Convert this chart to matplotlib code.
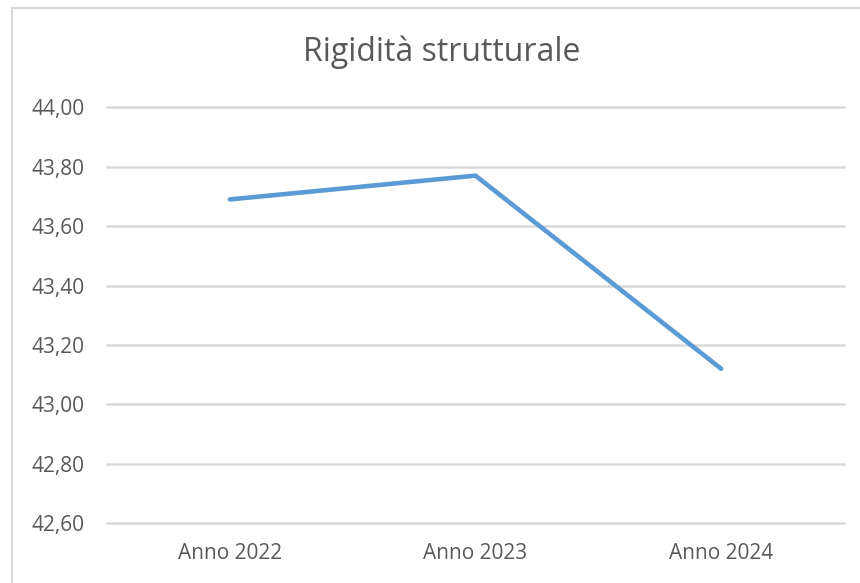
import matplotlib
matplotlib.use("Agg")
import matplotlib.pyplot as plt
from matplotlib.patches import Rectangle
from matplotlib.ticker import FuncFormatter

categories = ["Anno 2022", "Anno 2023", "Anno 2024"]
values = [43.69, 43.77, 43.12]
y_ticks = [42.60, 42.80, 43.00, 43.20, 43.40, 43.60, 43.80, 44.00]
title = "Rigidità strutturale"

plt.rcParams['font.family'] = ['Open Sans', 'DejaVu Sans']

W, H = 860, 583
fig = plt.figure(figsize=(W / 100, H / 100), dpi=100)
fig.patch.set_facecolor("white")

# outer chart border (top/left visible, right/bottom clipped)
fig.patches.append(Rectangle((12 / W, -0.2), 1.2, 1.2 - 8 / H, transform=fig.transFigure,
                             fill=False, edgecolor="#D9D9D9", linewidth=1.5))

left, right = 107 / W, 844 / W
bottom, top = 1 - 523.3 / H, 1 - 107.3 / H
ax = fig.add_axes([left, bottom, right - left, top - bottom])

x = list(range(len(categories)))
ax.plot(x, values, color="#5B9BD5", linewidth=3.3, solid_capstyle="round",
        solid_joinstyle="round", zorder=3)

ax.set_xlim(-0.5, len(categories) - 0.5)
ax.set_ylim(y_ticks[0], y_ticks[-1])
ax.set_yticks(y_ticks)
ax.yaxis.set_major_formatter(FuncFormatter(lambda v, p: f"{v:.2f}".replace(".", ",")))
ax.set_xticks(x)
ax.set_xticklabels(categories)

for s in ax.spines.values():
    s.set_visible(False)
ax.grid(axis="y", color="#D9D9D9", linewidth=1.8)
for gl in ax.get_ygridlines():
    gl.set_clip_on(False)
ax.set_axisbelow(True)
ax.tick_params(axis="both", length=0, colors="#595959", labelsize=15)
ax.tick_params(axis="y", pad=16)
ax.tick_params(axis="x", pad=14)

fig.text(442 / W, 1 - 52 / H, title, ha="center", va="center", fontsize=23,
         color="#595959")

fig.savefig("out.png", dpi=100, facecolor="white")
